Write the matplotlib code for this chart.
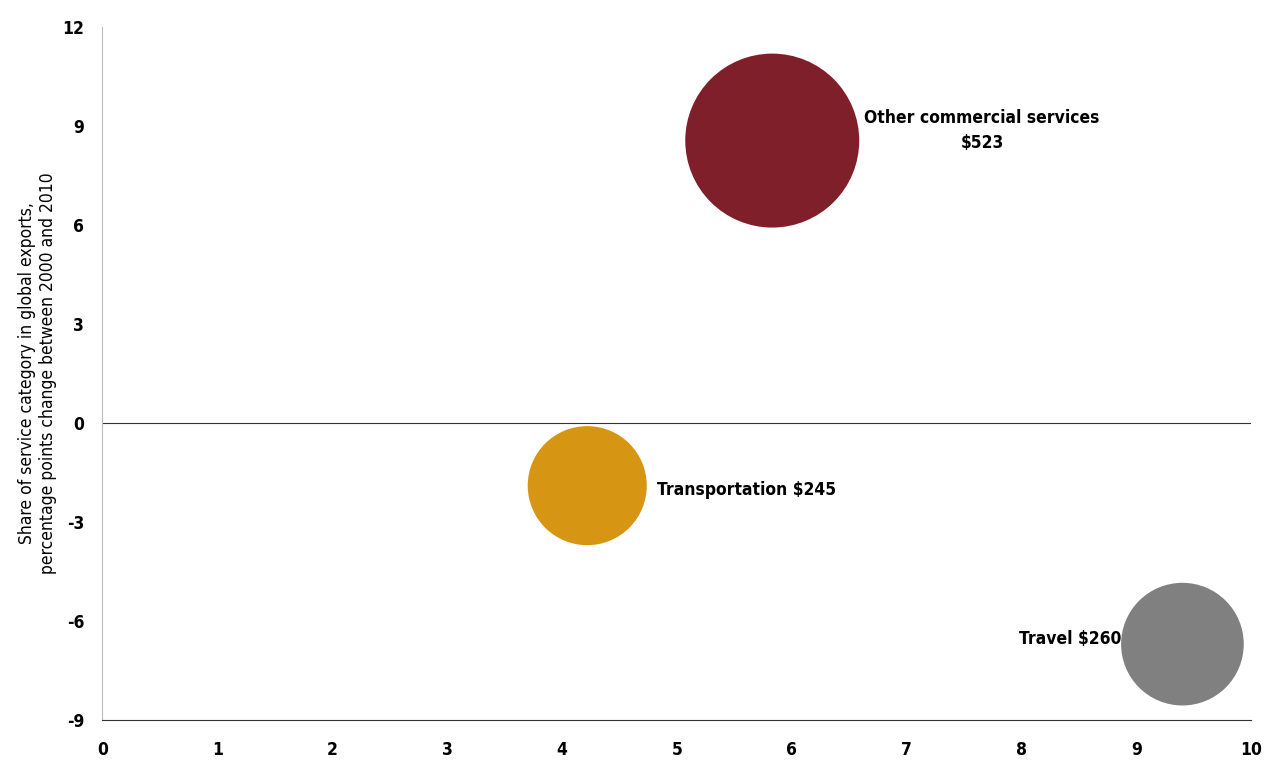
import matplotlib.pyplot as plt

plt.rcParams['font.family'] = ['DejaVu Sans']
plt.rcParams['font.stretch'] = 'condensed'
plt.rcParams['axes.unicode_minus'] = False

categories = ['Other commercial services', 'Transportation', 'Travel']
growth = [5.83, 4.22, 9.40]          # x values
share_change = [8.55, -1.9, -6.7]    # y values
exports = [523, 245, 260]            # bubble size, $ billions
colors = ['#7F1F29', '#D69614', '#808080']
labels = ['Other commercial services\n$523', 'Transportation $245', 'Travel $260']

fig, ax = plt.subplots(figsize=(12.64, 7.62), dpi=100)
fig.subplots_adjust(left=0.081, right=0.99, top=0.965, bottom=0.055)

ax.scatter(growth, share_change, s=[v * 30 for v in exports], c=colors,
           linewidths=0, zorder=3)

ax.axhline(0, color='#333333', lw=0.8, zorder=1)

# labels
ax.annotate(labels[0], (growth[0], share_change[0]), xytext=(151, 7),
            textcoords='offset points', ha='center', va='center',
            fontsize=12.5, fontweight='bold', linespacing=1.5)
ax.annotate(labels[1], (growth[1], share_change[1]), xytext=(50, -3),
            textcoords='offset points', ha='left', va='center',
            fontsize=12.5, fontweight='bold')
ax.annotate(labels[2], (growth[2], share_change[2]), xytext=(-44, 4),
            textcoords='offset points', ha='right', va='center',
            fontsize=12.5, fontweight='bold')

ax.set_xlim(0, 10)
ax.set_ylim(-9, 12)
ax.set_xticks(range(0, 11))
ax.set_yticks(range(-9, 13, 3))
ax.tick_params(length=0, labelsize=12.5)
ax.tick_params(axis='x', pad=15)
ax.tick_params(axis='y', pad=13)
for lbl in ax.get_xticklabels() + ax.get_yticklabels():
    lbl.set_fontweight('bold')

ax.spines['top'].set_visible(False)
ax.spines['right'].set_visible(False)
ax.spines['left'].set_color('#BBBBBB')
ax.spines['bottom'].set_color('#333333')

ax.set_ylabel('Share of service category in global exports,\npercentage points change between 2000 and 2010',
              fontsize=12.5, labelpad=4)

fig.savefig('out.png')
